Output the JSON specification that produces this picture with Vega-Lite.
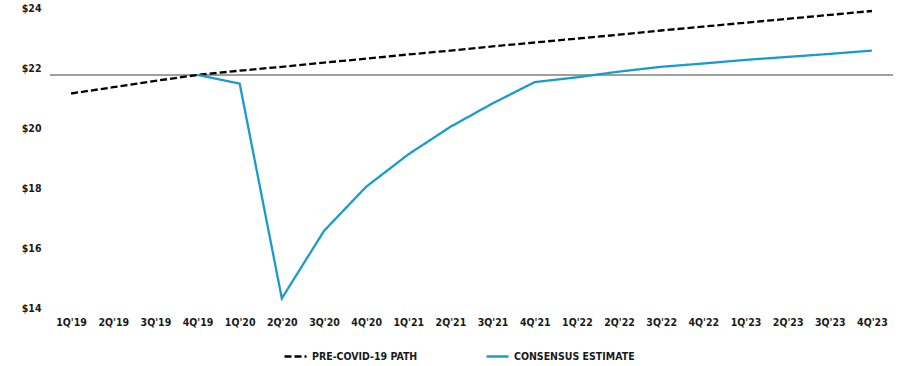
{
  "$schema": "https://vega.github.io/schema/vega-lite/v6.json",
  "width": 843,
  "height": 300,
  "autosize": {"type": "none"},
  "padding": {"left": 50, "top": 8, "right": 12, "bottom": 58},
  "background": "white",
  "config": {
    "view": {"stroke": null},
    "font": "DejaVu Sans Condensed, Liberation Sans, sans-serif",
    "axis": {"labelFont": "DejaVu Sans Condensed, Liberation Sans, sans-serif", "labelFontWeight": "bold", "labelFontSize": 10.5, "labelColor": "#1a1a1a", "domain": false, "ticks": false, "grid": false, "title": null},
    "legend": {"labelFont": "DejaVu Sans Condensed, Liberation Sans, sans-serif", "labelFontWeight": "bold", "labelFontSize": 10.5, "labelColor": "#1a1a1a"}
  },
  "datasets": {
    "series": [
      {"quarter": "1Q'19", "series": "PRE-COVID-19 PATH", "value": 21.15},
      {"quarter": "2Q'19", "series": "PRE-COVID-19 PATH", "value": 21.36},
      {"quarter": "3Q'19", "series": "PRE-COVID-19 PATH", "value": 21.57},
      {"quarter": "4Q'19", "series": "PRE-COVID-19 PATH", "value": 21.77},
      {"quarter": "1Q'20", "series": "PRE-COVID-19 PATH", "value": 21.91},
      {"quarter": "2Q'20", "series": "PRE-COVID-19 PATH", "value": 22.04},
      {"quarter": "3Q'20", "series": "PRE-COVID-19 PATH", "value": 22.18},
      {"quarter": "4Q'20", "series": "PRE-COVID-19 PATH", "value": 22.31},
      {"quarter": "1Q'21", "series": "PRE-COVID-19 PATH", "value": 22.45},
      {"quarter": "2Q'21", "series": "PRE-COVID-19 PATH", "value": 22.58},
      {"quarter": "3Q'21", "series": "PRE-COVID-19 PATH", "value": 22.72},
      {"quarter": "4Q'21", "series": "PRE-COVID-19 PATH", "value": 22.85},
      {"quarter": "1Q'22", "series": "PRE-COVID-19 PATH", "value": 22.98},
      {"quarter": "2Q'22", "series": "PRE-COVID-19 PATH", "value": 23.11},
      {"quarter": "3Q'22", "series": "PRE-COVID-19 PATH", "value": 23.25},
      {"quarter": "4Q'22", "series": "PRE-COVID-19 PATH", "value": 23.38},
      {"quarter": "1Q'23", "series": "PRE-COVID-19 PATH", "value": 23.51},
      {"quarter": "2Q'23", "series": "PRE-COVID-19 PATH", "value": 23.64},
      {"quarter": "3Q'23", "series": "PRE-COVID-19 PATH", "value": 23.77},
      {"quarter": "4Q'23", "series": "PRE-COVID-19 PATH", "value": 23.9},
      {"quarter": "4Q'19", "series": "CONSENSUS ESTIMATE", "value": 21.77},
      {"quarter": "1Q'20", "series": "CONSENSUS ESTIMATE", "value": 21.48},
      {"quarter": "2Q'20", "series": "CONSENSUS ESTIMATE", "value": 14.32},
      {"quarter": "3Q'20", "series": "CONSENSUS ESTIMATE", "value": 16.57},
      {"quarter": "4Q'20", "series": "CONSENSUS ESTIMATE", "value": 18.04},
      {"quarter": "1Q'21", "series": "CONSENSUS ESTIMATE", "value": 19.12},
      {"quarter": "2Q'21", "series": "CONSENSUS ESTIMATE", "value": 20.04},
      {"quarter": "3Q'21", "series": "CONSENSUS ESTIMATE", "value": 20.82},
      {"quarter": "4Q'21", "series": "CONSENSUS ESTIMATE", "value": 21.53},
      {"quarter": "1Q'22", "series": "CONSENSUS ESTIMATE", "value": 21.69},
      {"quarter": "2Q'22", "series": "CONSENSUS ESTIMATE", "value": 21.88},
      {"quarter": "3Q'22", "series": "CONSENSUS ESTIMATE", "value": 22.04},
      {"quarter": "4Q'22", "series": "CONSENSUS ESTIMATE", "value": 22.15},
      {"quarter": "1Q'23", "series": "CONSENSUS ESTIMATE", "value": 22.27},
      {"quarter": "2Q'23", "series": "CONSENSUS ESTIMATE", "value": 22.37},
      {"quarter": "3Q'23", "series": "CONSENSUS ESTIMATE", "value": 22.47},
      {"quarter": "4Q'23", "series": "CONSENSUS ESTIMATE", "value": 22.58}
    ],
    "ref": [{"value": 21.77}]
  },
  "layer": [
    {
      "data": {"name": "ref"},
      "mark": {"type": "rule", "color": "#7f7f7f", "strokeWidth": 1.5},
      "encoding": {"y": {"field": "value", "type": "quantitative", "scale": {"domain": [14, 24]}}}
    },
    {
      "data": {"name": "series"},
      "mark": {"type": "line", "strokeWidth": 2.3},
      "encoding": {
        "x": {
          "field": "quarter", "type": "ordinal", "sort": null,
          "scale": {"type": "point", "padding": 0.5},
          "axis": {"labelAngle": 0, "labelPadding": 9}
        },
        "y": {
          "field": "value", "type": "quantitative",
          "scale": {"domain": [14, 24]},
          "axis": {"values": [14, 16, 18, 20, 22, 24], "labelExpr": "'$' + datum.value", "labelPadding": 9}
        },
        "color": {
          "field": "series", "type": "nominal",
          "scale": {"domain": ["PRE-COVID-19 PATH", "CONSENSUS ESTIMATE"], "range": ["#000000", "#1a9bd0"]},
          "legend": {"title": null, "orient": "none", "legendX": 233, "legendY": 336, "direction": "horizontal", "symbolType": "stroke", "symbolSize": 484, "symbolStrokeWidth": 2.3, "labelOffset": 4, "columnPadding": 63}
        },
        "strokeDash": {
          "field": "series", "type": "nominal",
          "scale": {"domain": ["PRE-COVID-19 PATH", "CONSENSUS ESTIMATE"], "range": [[7, 3], [1, 0]]},
          "legend": {"title": null, "orient": "none", "legendX": 233, "legendY": 336, "direction": "horizontal", "symbolType": "stroke", "symbolSize": 484, "symbolStrokeWidth": 2.3, "labelOffset": 4, "columnPadding": 63}
        }
      }
    }
  ]
}
